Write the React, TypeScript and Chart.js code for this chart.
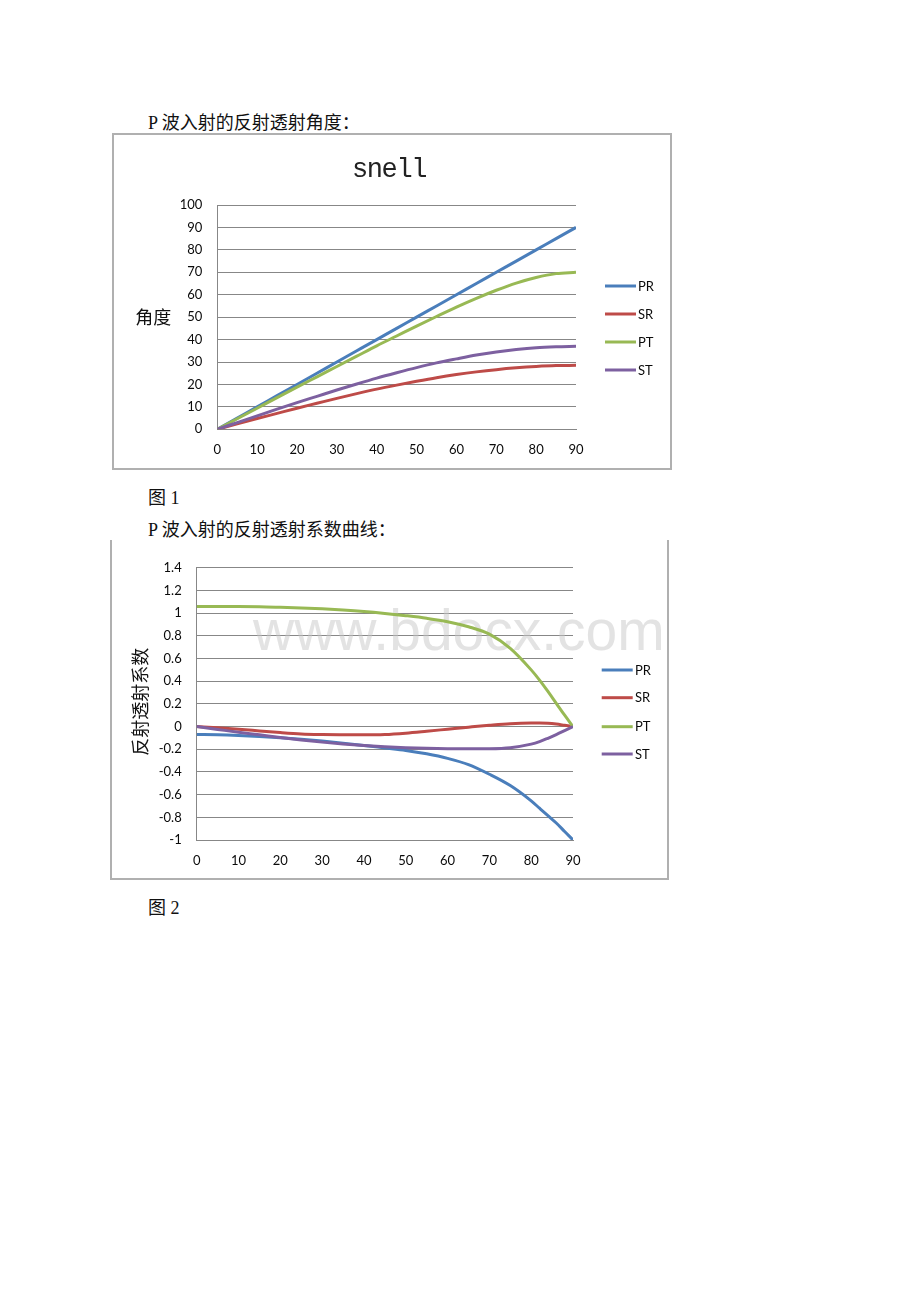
import React, { useEffect, useRef } from "react";
import { Chart, registerables } from "chart.js";

Chart.register(...registerables);

// ---------- Data ----------
const seriesNames = ["PR", "SR", "PT", "ST"];
const seriesColors = ["#4A7EBB", "#BE4B48", "#98B954", "#7D60A0"];

// Figure 1: snell angles
const angles1 = [0, 5, 10, 15, 20, 25, 30, 35, 40, 45, 50, 55, 60, 65, 70, 75, 80, 85, 90];
const pr1 = [0, 5, 10, 15, 20, 25, 30, 35, 40, 45, 50, 55, 60, 65, 70, 75, 80, 85, 90];
const sr1 = [0, 2.4, 4.8, 7.1, 9.4, 11.6, 13.8, 15.9, 17.9, 19.7, 21.4, 23.0, 24.4, 25.6, 26.6, 27.4, 28.0, 28.4, 28.5];
const pt1 = [0, 4.7, 9.4, 14.1, 18.8, 23.4, 28.0, 32.6, 37.2, 41.6, 46.0, 50.3, 54.5, 58.4, 62.0, 65.2, 67.7, 69.4, 70.0];
const st1 = [0, 3.0, 6.0, 9.0, 11.9, 14.7, 17.5, 20.2, 22.8, 25.2, 27.5, 29.6, 31.4, 33.1, 34.5, 35.6, 36.4, 36.8, 37.0];

// Figure 2: reflection / transmission coefficients
const angles2 = [0, 5, 10, 15, 20, 25, 30, 35, 40, 45, 50, 55, 60, 65, 70, 75, 80, 82, 84, 86, 88, 90];
const pr2 = [-0.07, -0.072, -0.078, -0.087, -0.098, -0.112, -0.128, -0.146, -0.166, -0.188, -0.21, -0.24, -0.28, -0.335, -0.42, -0.52, -0.655, -0.72, -0.785, -0.85, -0.925, -1.0];
const sr2 = [0, -0.011, -0.023, -0.038, -0.053, -0.065, -0.07, -0.072, -0.073, -0.07, -0.058, -0.041, -0.023, -0.005, 0.012, 0.026, 0.031, 0.031, 0.029, 0.022, 0.011, 0];
const pt2 = [1.058, 1.058, 1.058, 1.057, 1.052, 1.046, 1.038, 1.028, 1.015, 0.998, 0.978, 0.955, 0.925, 0.88, 0.815, 0.69, 0.5, 0.41, 0.31, 0.205, 0.1, 0];
const st2 = [0, -0.025, -0.05, -0.073, -0.097, -0.118, -0.137, -0.153, -0.167, -0.178, -0.186, -0.192, -0.195, -0.196, -0.195, -0.186, -0.155, -0.133, -0.103, -0.07, -0.035, 0];

const xTicks = [0, 10, 20, 30, 40, 50, 60, 70, 80, 90];
const yTicks1 = [0, 10, 20, 30, 40, 50, 60, 70, 80, 90, 100];
const yTicks2 = [-1, -0.8, -0.6, -0.4, -0.2, 0, 0.2, 0.4, 0.6, 0.8, 1, 1.2, 1.4];

const chartTitle1 = "snell";
const yTitle1 = "角度";
const yTitle2 = "反射透射系数";
const watermarkText = "www.bdocx.com";

// ---------- Styles ----------
const GRID = "#878787";
const TEXT = "#0a0a0a";
const TICK_FONT = { family: "Lato, 'Open Sans', sans-serif", size: 13 };
const DOC_FONT = "'Liberation Serif', 'Noto Sans CJK SC', serif";

type Extras = {
  legend: { x0: number; x1: number; tx: number; ys: number[] };
  title?: { text: string; cx: number; y: number; spacing: number };
  yTitle: { text: string; x: number; y: number; rotate: boolean };
  watermark?: { text: string; x: number; y: number };
};

function makeExtras(ex: Extras) {
  return {
    id: "extras",
    beforeDatasetsDraw(chart: any) {
      if (!ex.watermark) return;
      const ctx = chart.ctx;
      ctx.save();
      ctx.font = "57px 'Liberation Sans', Arial, sans-serif";
      ctx.fillStyle = "rgba(200,200,200,0.5)";
      ctx.textAlign = "left";
      ctx.textBaseline = "alphabetic";
      ctx.fillText(ex.watermark.text, ex.watermark.x, ex.watermark.y);
      ctx.restore();
    },
    afterDraw(chart: any) {
      const ctx = chart.ctx;
      ctx.save();
      // legend
      chart.data.datasets.forEach((ds: any, i: number) => {
        const y = ex.legend.ys[i];
        ctx.strokeStyle = ds.borderColor;
        ctx.lineWidth = 3;
        ctx.lineCap = "butt";
        ctx.beginPath();
        ctx.moveTo(ex.legend.x0, y);
        ctx.lineTo(ex.legend.x1, y);
        ctx.stroke();
        ctx.fillStyle = TEXT;
        ctx.font = "13px Lato, sans-serif";
        ctx.textAlign = "left";
        ctx.textBaseline = "middle";
        ctx.fillText(ds.label, ex.legend.tx, y + 0.5);
      });
      // title
      if (ex.title) {
        const t = ex.title;
        ctx.fillStyle = "#222";
        ctx.font = "27px 'Liberation Mono', monospace";
        ctx.textAlign = "center";
        ctx.textBaseline = "alphabetic";
        const n = t.text.length;
        for (let i = 0; i < n; i++) {
          ctx.fillText(t.text[i], t.cx + (i - (n - 1) / 2) * t.spacing, t.y);
        }
      }
      // y axis title
      const yt = ex.yTitle;
      ctx.save();
      ctx.translate(yt.x, yt.y);
      if (yt.rotate) ctx.rotate(-Math.PI / 2);
      ctx.fillStyle = "#111";
      ctx.font = "18px 'Noto Sans CJK SC', sans-serif";
      ctx.textAlign = "center";
      ctx.textBaseline = "middle";
      ctx.fillText(yt.text, 0, 0);
      ctx.restore();
      ctx.restore();
    },
  };
}

function buildConfig(p: {
  xs: number[];
  series: number[][];
  yMin: number;
  yMax: number;
  yTicks: number[];
  yWidth: number;
  padTop: number;
  padRight: number;
  padBottom: number;
  extras: Extras;
}): any {
  return {
    type: "line",
    data: {
      datasets: seriesNames.map((name, i) => ({
        label: name,
        data: p.xs.map((x, j) => ({ x, y: p.series[i][j] })),
        borderColor: seriesColors[i],
        backgroundColor: seriesColors[i],
        borderWidth: 3,
        pointRadius: 0,
        fill: false,
        cubicInterpolationMode: "monotone",
        order: seriesNames.length - 1 - i,
      })),
    },
    options: {
      animation: false,
      responsive: false,
      events: [],
      layout: { padding: { left: 0, right: p.padRight, top: p.padTop, bottom: p.padBottom } },
      plugins: {
        legend: { display: false },
        title: { display: false },
        tooltip: { enabled: false },
      },
      scales: {
        x: {
          type: "linear",
          min: 0,
          max: 90,
          afterBuildTicks: (s: any) => {
            s.ticks = xTicks.map((v) => ({ value: v }));
          },
          afterFit: (s: any) => {
            s.height = 30;
          },
          grid: { display: false, drawTicks: false },
          border: { display: true, color: GRID, width: 1 },
          ticks: {
            padding: 13,
            color: TEXT,
            font: TICK_FONT,
            maxRotation: 0,
            autoSkip: false,
            callback: (v: any) => String(v),
          },
        },
        y: {
          type: "linear",
          min: p.yMin,
          max: p.yMax,
          afterBuildTicks: (s: any) => {
            s.ticks = p.yTicks.map((v) => ({ value: v }));
          },
          afterFit: (s: any) => {
            s.width = p.yWidth;
          },
          grid: { color: GRID, lineWidth: 1, drawTicks: false },
          border: { display: true, color: GRID, width: 1 },
          ticks: {
            padding: 15,
            color: TEXT,
            font: TICK_FONT,
            autoSkip: false,
            callback: (v: any) => String(Math.round(v * 10) / 10),
          },
        },
      },
    },
    plugins: [makeExtras(p.extras)],
  };
}

function ChartCanvas(props: { make: () => any; left: number; top: number; width: number; height: number }) {
  const ref = useRef<HTMLCanvasElement>(null);
  useEffect(() => {
    const chart = new Chart(ref.current as HTMLCanvasElement, props.make());
    return () => chart.destroy();
  }, []);
  return (
    <canvas
      ref={ref}
      width={props.width}
      height={props.height}
      style={{ position: "absolute", left: props.left, top: props.top, width: props.width, height: props.height }}
    />
  );
}

const makeChart1 = () =>
  buildConfig({
    xs: angles1,
    series: [pr1, sr1, pt1, st1],
    yMin: 0,
    yMax: 100,
    yTicks: yTicks1,
    yWidth: 103.3,
    padTop: 70,
    padRight: 94,
    padBottom: 8.7,
    extras: {
      legend: { x0: 491, x1: 522, tx: 524, ys: [151, 179, 207, 235] },
      title: { text: chartTitle1, cx: 275.7, y: 41.7, spacing: 14.8 },
      yTitle: { text: yTitle1, x: 39.3, y: 182.3, rotate: false },
    },
  });

const makeChart2 = () =>
  buildConfig({
    xs: angles2,
    series: [pr2, sr2, pt2, st2],
    yMin: -1,
    yMax: 1.4,
    yTicks: yTicks2,
    yWidth: 84.7,
    padTop: 16.7,
    padRight: 94,
    padBottom: 8,
    extras: {
      legend: { x0: 489.7, x1: 520.7, tx: 523, ys: [125, 152.7, 181.7, 209] },
      yTitle: { text: yTitle2, x: 28.5, y: 156.7, rotate: true },
      watermark: { text: watermarkText, x: 141, y: 105 },
    },
  });

const docText = (text: string, top: number): React.ReactElement => (
  <div
    style={{
      position: "absolute",
      left: 148,
      top,
      fontFamily: DOC_FONT,
      fontSize: 18,
      lineHeight: "18px",
      color: "#111",
      whiteSpace: "nowrap",
    }}
  >
    {text}
  </div>
);

export default function App() {
  return (
    <div
      style={{
        position: "absolute",
        left: 0,
        top: 0,
        width: 920,
        height: 1302,
        background: "#fff",
        overflow: "hidden",
      }}
    >
      {docText("P 波入射的反射透射角度：", 114.3)}
      <div
        style={{
          position: "absolute",
          left: 112,
          top: 133,
          width: 560,
          height: 337,
          boxSizing: "border-box",
          border: "2px solid #b0b0b0",
        }}
      />
      <ChartCanvas make={makeChart1} left={114} top={135} width={556} height={333} />
      {docText("图 1", 489)}
      {docText("P 波入射的反射透射系数曲线：", 521)}
      <div
        style={{
          position: "absolute",
          left: 110,
          top: 540,
          width: 559,
          height: 340,
          boxSizing: "border-box",
          borderLeft: "2px solid #b0b0b0",
          borderRight: "2px solid #b0b0b0",
          borderBottom: "2px solid #b0b0b0",
        }}
      />
      <ChartCanvas make={makeChart2} left={112} top={545} width={555} height={333} />
      {docText("图 2", 899.3)}
    </div>
  );
}
